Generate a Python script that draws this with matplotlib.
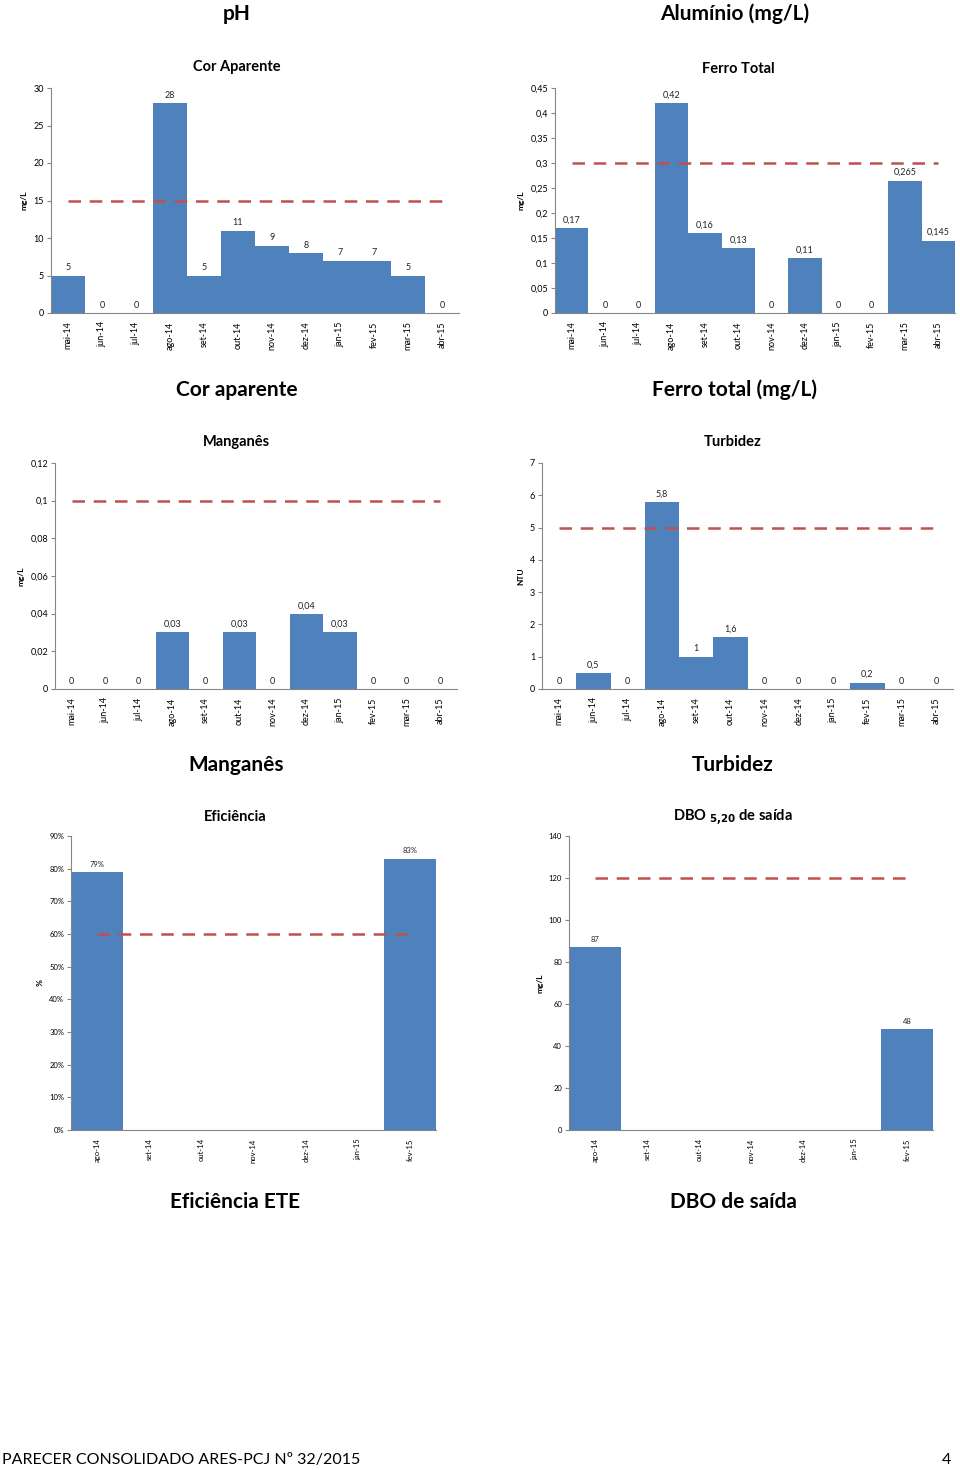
import numpy as np
import matplotlib.pyplot as plt
from matplotlib.ticker import FixedLocator

plt.rcParams['font.family'] = ['Lato', 'DejaVu Sans']

meses = ['mai-14', 'jun-14', 'jul-14', 'ago-14', 'set-14', 'out-14',
         'nov-14', 'dez-14', 'jan-15', 'fev-15', 'mar-15', 'abr-15']
meses_ete = ['ago-14', 'set-14', 'out-14', 'nov-14', 'dez-14', 'jan-15', 'fev-15']

cor = [5, 0, 0, 28, 5, 11, 9, 8, 7, 7, 5, 0]
cor_lim = 15
ferro = [0.17, 0, 0, 0.42, 0.16, 0.13, 0, 0.11, 0, 0, 0.265, 0.145]
ferro_lim = 0.3
mn = [0, 0, 0, 0.03, 0, 0.03, 0, 0.04, 0.03, 0, 0, 0]
mn_lim = 0.1
turb = [0, 0.5, 0, 5.8, 1, 1.6, 0, 0, 0, 0.2, 0, 0]
turb_lim = 5
efic = [0.79, None, None, None, None, None, 0.83]
efic_lim = 0.6
dbo = [87, None, None, None, None, None, 48]
dbo_lim = 120

BLUE = '#4F81BD'
RED = '#C0504D'
GRAY = '#868686'

W, H = 960, 1470
fig = plt.figure(figsize=(W / 100, H / 100), dpi=100)


def box(l, t, r, b):
    return [l / W, 1 - b / H, (r - l) / W, (b - t) / H]


def fmt(v, pct=False):
    if pct:
        return f"{v * 100:.0f}%"
    s = f"{v:g}"
    return s.replace('.', ',')


def bar_chart(pos, cats, vals, lim, ymax, step, title, tpos, ylabel, pct=False, fs=6.5):
    ax = fig.add_axes(box(*pos))
    x = np.arange(len(cats))
    for i, v in enumerate(vals):
        if v is None:
            continue
        ax.bar(i, v, width=1.0, color=BLUE, linewidth=0)
        ax.text(i, v + ymax * 0.015, fmt(v, pct), ha='center', va='bottom',
                fontsize=fs, color='#222222')
    ax.plot([0, len(cats) - 1], [lim, lim], color=RED, lw=1.8,
            dashes=(5, 3.5), zorder=3)
    ax.set_xlim(-0.5, len(cats) - 0.5)
    ax.set_ylim(0, ymax)
    ticks = np.round(np.arange(0, ymax + step / 2, step), 6)
    ax.yaxis.set_major_locator(FixedLocator(ticks))
    ax.set_yticklabels([fmt(t, pct) for t in ticks])
    ax.set_xticks(x)
    ax.set_xticklabels(cats, rotation=90)
    ax.tick_params(axis='x', length=0, labelsize=fs, pad=6)
    ax.tick_params(axis='y', length=3, color=GRAY, labelsize=fs, pad=2)
    for s in ['top', 'right']:
        ax.spines[s].set_visible(False)
    for s in ['left', 'bottom']:
        ax.spines[s].set_color(GRAY)
        ax.spines[s].set_linewidth(0.8)
    ax.set_ylabel(ylabel, fontsize=6, fontweight='bold', labelpad=4)
    fig.text(tpos[0] / W, 1 - tpos[1] / H, title, ha='center', va='center',
             fontsize=10.5, fontweight='bold')
    return ax


bar_chart((51, 88, 459, 313), meses, cor, cor_lim, 30, 5,
          'Cor Aparente', (237, 67), 'mg/L')
bar_chart((555, 88, 955, 313), meses, ferro, ferro_lim, 0.45, 0.05,
          'Ferro Total', (738, 69), 'mg/L')
bar_chart((55, 463, 457, 689), meses, mn, mn_lim, 0.12, 0.02,
          'Manganês', (236, 442), 'mg/L')
bar_chart((542, 463, 953, 689), meses, turb, turb_lim, 7, 1,
          'Turbidez', (733, 442), 'NTU')
bar_chart((71, 836, 436, 1130), meses_ete, efic, efic_lim, 0.9, 0.1,
          'Eficiência', (235, 817), '%', pct=True, fs=5.5)
bar_chart((569, 836, 933, 1130), meses_ete, dbo, dbo_lim, 140, 20,
          r'DBO $_{\mathbf{5{,}20}}$ de saída', (733, 818), 'mg/L', fs=5.5)

heads = [('pH', 237, 14), ('Alumínio (mg/L)', 735, 14),
         ('Cor aparente', 237, 390), ('Ferro total (mg/L)', 735, 390),
         ('Manganês', 236, 765), ('Turbidez', 733, 765),
         ('Eficiência ETE', 235, 1202), ('DBO de saída', 733, 1202)]
for txt, hx, hy in heads:
    fig.text(hx / W, 1 - hy / H, txt, ha='center', va='center',
             fontsize=15, fontweight='bold')

fig.text(2 / W, 1 - 1460 / H, 'PARECER CONSOLIDADO ARES-PCJ Nº 32/2015',
         ha='left', va='center', fontsize=11.5)
fig.text(951 / W, 1 - 1460 / H, '4', ha='right', va='center', fontsize=11.5)

fig.savefig('out.png', dpi=100, facecolor='white')
